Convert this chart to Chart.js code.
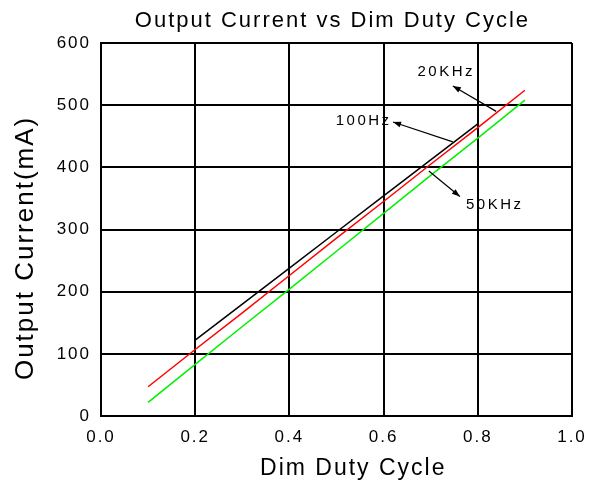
<!DOCTYPE html>
<html>
<head>
<meta charset="utf-8">
<script src="https://cdn.jsdelivr.net/npm/chart.js@4"></script>
<style>
  html, body { margin: 0; padding: 0; background: #fff; }
  #wrap { width: 589px; height: 483px; }
</style>
</head>
<body>
<div id="wrap"><canvas id="chart" width="589" height="483"></canvas></div>
<script>
// duty cycle vs output current (mA)
const dutyCycle = [0.1, 0.2, 0.3, 0.4, 0.5, 0.6, 0.7, 0.8, 0.9];
const current20k = [47, 107, 166, 226, 286, 345, 405, 464, 524];
const current50k = [22, 83, 144, 204, 265, 326, 387, 447, 508];
// the 100Hz trace only runs 0.2..0.8 and starts with a short vertical step
const dutyCycle100 = [0.2, 0.2, 0.3, 0.4, 0.5, 0.6, 0.7, 0.8];
const current100 = [114, 122, 180, 238, 296, 354, 412, 470];

// callout labels: text, label anchor, arrow tail (on curve), arrow head
const calloutText = ['20KHz', '100Hz', '50KHz'];
const calloutLabel = [[0.733, 553, 'center'], [0.617, 474, 'right'], [0.775, 339, 'left']];
const calloutTail = [[0.839, 490], [0.747, 441], [0.696, 394]];
const calloutHead = [[0.747, 531], [0.62, 473], [0.762, 353]];

const toPoints = (xs, ys) => xs.map((x, i) => ({ x: x, y: ys[i] }));

const FONT = '"Liberation Sans", Arial, sans-serif';

// old-style loose text rendering
const spacing = {
  id: 'spacing',
  beforeDraw(chart) { chart.ctx.letterSpacing = '2px'; }
};

const callouts = {
  id: 'callouts',
  afterDatasetsDraw(chart) {
    const { ctx, scales: { x, y } } = chart;
    ctx.save();
    ctx.strokeStyle = '#000';
    ctx.fillStyle = '#000';
    ctx.lineWidth = 1.2;
    calloutText.forEach((txt, i) => {
      const tx = x.getPixelForValue(calloutTail[i][0]);
      const ty = y.getPixelForValue(calloutTail[i][1]);
      const hx = x.getPixelForValue(calloutHead[i][0]);
      const hy = y.getPixelForValue(calloutHead[i][1]);
      ctx.beginPath();
      ctx.moveTo(tx, ty);
      ctx.lineTo(hx, hy);
      ctx.stroke();
      const a = Math.atan2(hy - ty, hx - tx);
      const len = 8, w = 3;
      ctx.beginPath();
      ctx.moveTo(hx, hy);
      ctx.lineTo(hx - len * Math.cos(a) + w * Math.sin(a), hy - len * Math.sin(a) - w * Math.cos(a));
      ctx.lineTo(hx - len * Math.cos(a) - w * Math.sin(a), hy - len * Math.sin(a) + w * Math.cos(a));
      ctx.closePath();
      ctx.fill();
      const [lx, ly, align] = calloutLabel[i];
      ctx.font = '15px ' + FONT;
      ctx.letterSpacing = '2.5px';
      ctx.textAlign = align;
      ctx.textBaseline = 'middle';
      ctx.fillText(txt, x.getPixelForValue(lx), y.getPixelForValue(ly));
    });
    ctx.restore();
  }
};

new Chart(document.getElementById('chart'), {
  type: 'line',
  data: {
    datasets: [
      { label: '100Hz', data: toPoints(dutyCycle100, current100), borderColor: '#000000', borderWidth: 1.5 },
      { label: '20KHz', data: toPoints(dutyCycle, current20k), borderColor: '#ff0000', borderWidth: 1.5 },
      { label: '50KHz', data: toPoints(dutyCycle, current50k), borderColor: '#00f000', borderWidth: 1.5 }
    ]
  },
  options: {
    responsive: false,
    animation: false,
    devicePixelRatio: 1,
    layout: { padding: { left: 0, right: 17, top: 0, bottom: 0 } },
    elements: { point: { radius: 0 }, line: { tension: 0 } },
    plugins: {
      legend: { display: false },
      tooltip: { enabled: false },
      title: {
        display: true,
        fullSize: false,
        text: 'Output Current vs Dim Duty Cycle ',
        color: '#000',
        font: { family: FONT, size: 22, weight: 'normal' },
        padding: { top: 8, bottom: 8.6 }
      }
    },
    scales: {
      x: {
        type: 'linear',
        min: 0, max: 1,
        ticks: { stepSize: 0.2, color: '#000', font: { family: FONT, size: 17 }, padding: 11,
                 callback: (v) => v.toFixed(1) },
        grid: { color: '#000', lineWidth: 2, drawTicks: false },
        border: { color: '#000', width: 2 },
        title: { display: true, text: '    Dim Duty Cycle', color: '#000',
                 font: { family: FONT, size: 23 }, padding: { top: 4, bottom: 1 } },
        afterFit: (s) => { s.height = 67; s.paddingLeft = 0; s.paddingRight = 0; }
      },
      y: {
        min: 0, max: 600,
        ticks: { stepSize: 100, color: '#000', font: { family: FONT, size: 17 }, padding: 10 },
        grid: { color: '#000', lineWidth: 2, drawTicks: false },
        border: { color: '#000', width: 2 },
        title: { display: true, text: 'Output Current(mA)    ', color: '#000',
                 font: { family: FONT, size: 26 }, padding: { top: 10, bottom: 4 } },
        afterFit: (s) => { s.width = 101; s.paddingTop = 0; s.paddingBottom = 0; }
      }
    }
  },
  plugins: [spacing, callouts]
});
</script>
</body>
</html>
